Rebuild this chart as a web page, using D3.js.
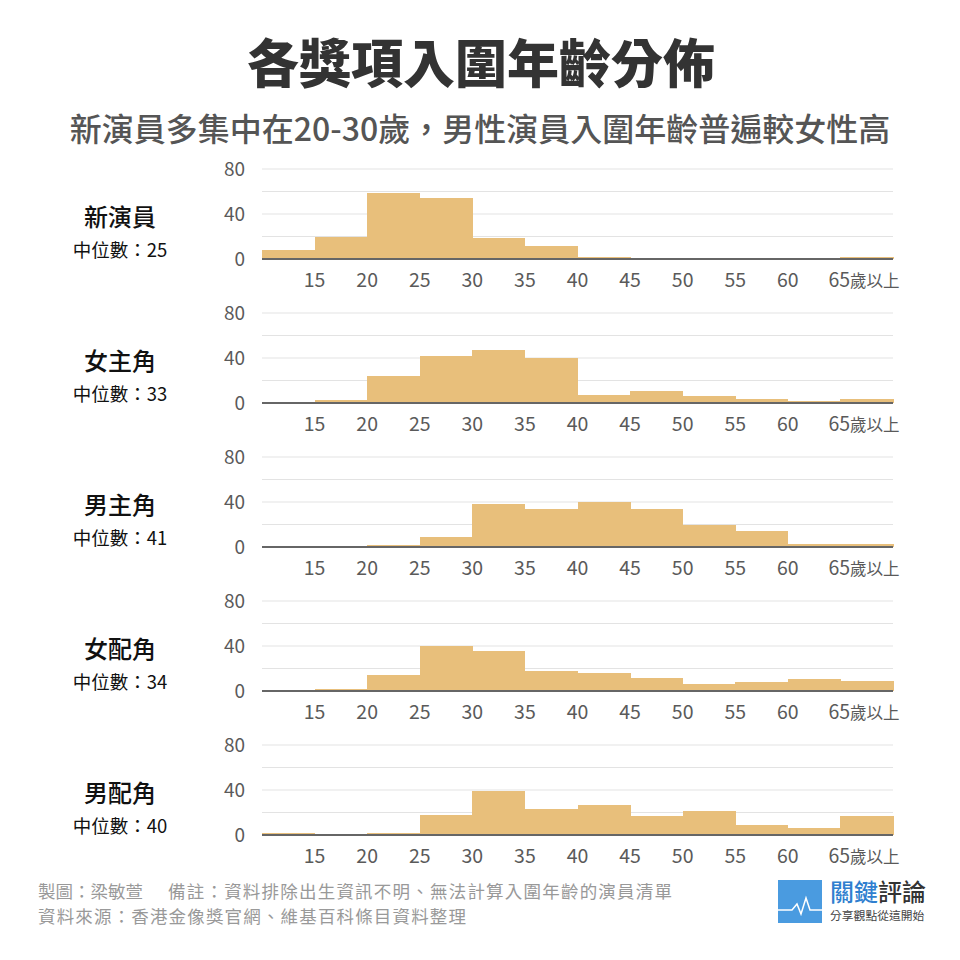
<!DOCTYPE html>
<html>
<head>
<meta charset="utf-8">
<script src="https://cdn.jsdelivr.net/npm/d3@7"></script>
<style>
  body { margin: 0; background: #fff; }
  svg { font-family: "Noto Sans CJK TC", "Noto Sans", sans-serif; }
</style>
</head>
<body>
<div id="chart"></div>
<script>
// Data
const binStarts = [10, 15, 20, 25, 30, 35, 40, 45, 50, 55, 60, 65];
const tickValues = [15, 20, 25, 30, 35, 40, 45, 50, 55, 60];
const panelNames = ["新演員", "女主角", "男主角", "女配角", "男配角"];
const medians = [25, 33, 41, 34, 40];
const newActor    = [8, 20, 59, 54, 19, 12, 2, 0, 0, 0, 0, 2];
const leadActress = [0, 3, 24, 42, 47, 40, 7, 11, 6, 4, 2, 4];
const leadActor   = [0, 0, 2, 9, 38, 34, 40, 34, 20, 14, 3, 3];
const supActress  = [1, 2, 14, 40, 36, 18, 16, 12, 6, 8, 11, 9];
const supActor    = [2, 0, 2, 18, 39, 23, 27, 17, 21, 9, 6, 17];
const seriesList = [newActor, leadActress, leadActor, supActress, supActor];

const width = 960, height = 960;
const svg = d3.select("#chart").append("svg")
    .attr("width", width)
    .attr("height", height);

// Title
svg.append("text")
    .attr("x", 481).attr("y", 83)
    .attr("text-anchor", "middle")
    .attr("font-size", 52).attr("font-weight", 900)
    .attr("fill", "#333")
    .text("各獎項入圍年齡分佈");

svg.append("text")
    .attr("x", 480).attr("y", 141)
    .attr("text-anchor", "middle")
    .attr("font-size", 32).attr("font-weight", 500)
    .attr("fill", "#555")
    .text("新演員多集中在20-30歲，男性演員入圍年齡普遍較女性高");

const x = d3.scaleLinear().domain([10, 70]).range([262, 893]);
const panelGap = 144;
const firstBase = 259;

seriesList.forEach((values, i) => {
    const base = firstBase + i * panelGap;
    const y = d3.scaleLinear().domain([0, 80]).range([base, base - 90]);
    const g = svg.append("g");

    // gridlines
    g.selectAll("line.grid")
        .data([20, 40, 60, 80])
        .join("line")
        .attr("x1", x(10)).attr("x2", x(70))
        .attr("y1", d => y(d)).attr("y2", d => y(d))
        .attr("stroke", "#e3e3e3").attr("stroke-width", 1);

    // bars
    g.selectAll("rect")
        .data(values.map((v, j) => ({ start: binStarts[j], v })))
        .join("rect")
        .attr("x", d => x(d.start))
        .attr("width", d => x(d.start + 5) - x(d.start) + 0.5)
        .attr("y", d => y(d.v))
        .attr("height", d => y(0) - y(d.v))
        .attr("fill", "#E8BF7B")
        .attr("shape-rendering", "crispEdges");

    // baseline
    g.append("line")
        .attr("x1", x(10)).attr("x2", x(70))
        .attr("y1", y(0)).attr("y2", y(0))
        .attr("stroke", "#666").attr("stroke-width", 2);

    // y labels
    g.selectAll("text.ylab")
        .data([0, 40, 80])
        .join("text")
        .attr("x", 245)
        .attr("y", d => y(d) + 7)
        .attr("text-anchor", "end")
        .attr("font-size", 19)
        .attr("fill", "#5a5a5a")
        .text(d => d);

    // x labels
    g.selectAll("text.xlab")
        .data(tickValues)
        .join("text")
        .attr("x", d => x(d))
        .attr("y", base + 28)
        .attr("text-anchor", "middle")
        .attr("font-size", 19.5)
        .attr("fill", "#5a5a5a")
        .text(d => d);

    const last = g.append("text")
        .attr("x", x(65) - 12)
        .attr("y", base + 28)
        .attr("font-size", 19.5)
        .attr("fill", "#5a5a5a");
    last.append("tspan").text("65");
    last.append("tspan").attr("font-size", 16.5).text("歲以上");

    // left labels
    g.append("text")
        .attr("x", 120).attr("y", base - 33)
        .attr("text-anchor", "middle")
        .attr("font-size", 24).attr("font-weight", 500)
        .attr("fill", "#111")
        .text(panelNames[i]);

    g.append("text")
        .attr("x", 120).attr("y", base - 2)
        .attr("text-anchor", "middle")
        .attr("font-size", 18.5).attr("font-weight", 400)
        .attr("fill", "#111")
        .text("中位數：" + medians[i]);
});

// Footer
svg.append("text")
    .attr("x", 38).attr("y", 898)
    .attr("font-size", 17.5).attr("fill", "#999")
    .text("製圖：梁敏萱");
svg.append("text")
    .attr("x", 168).attr("y", 898)
    .attr("font-size", 17.5).attr("fill", "#999")
    .attr("textLength", 504)
    .text("備註：資料排除出生資訊不明、無法計算入圍年齡的演員清單");
svg.append("text")
    .attr("x", 38).attr("y", 923)
    .attr("font-size", 17.5).attr("fill", "#999")
    .attr("textLength", 428)
    .text("資料來源：香港金像獎官網、維基百科條目資料整理");

// Logo
const logo = svg.append("g").attr("transform", "translate(778,880)");
logo.append("rect")
    .attr("width", 44).attr("height", 43)
    .attr("fill", "#4A9BE0");
logo.append("path")
    .attr("d", "M0,30 L14,30 L19,24 L23,34 L28,18 L32,30 L44,30")
    .attr("fill", "none")
    .attr("stroke", "#fff").attr("stroke-width", 1.5);
const lt = logo.append("text")
    .attr("x", 52).attr("y", 21)
    .attr("font-size", 24).attr("font-weight", 500);
lt.append("tspan").attr("fill", "#2F7FCF").text("關鍵");
lt.append("tspan").attr("fill", "#333").text("評論");
logo.append("text")
    .attr("x", 52).attr("y", 40)
    .attr("font-size", 11.8).attr("fill", "#444")
    .text("分享觀點從這開始");
</script>
</body>
</html>
